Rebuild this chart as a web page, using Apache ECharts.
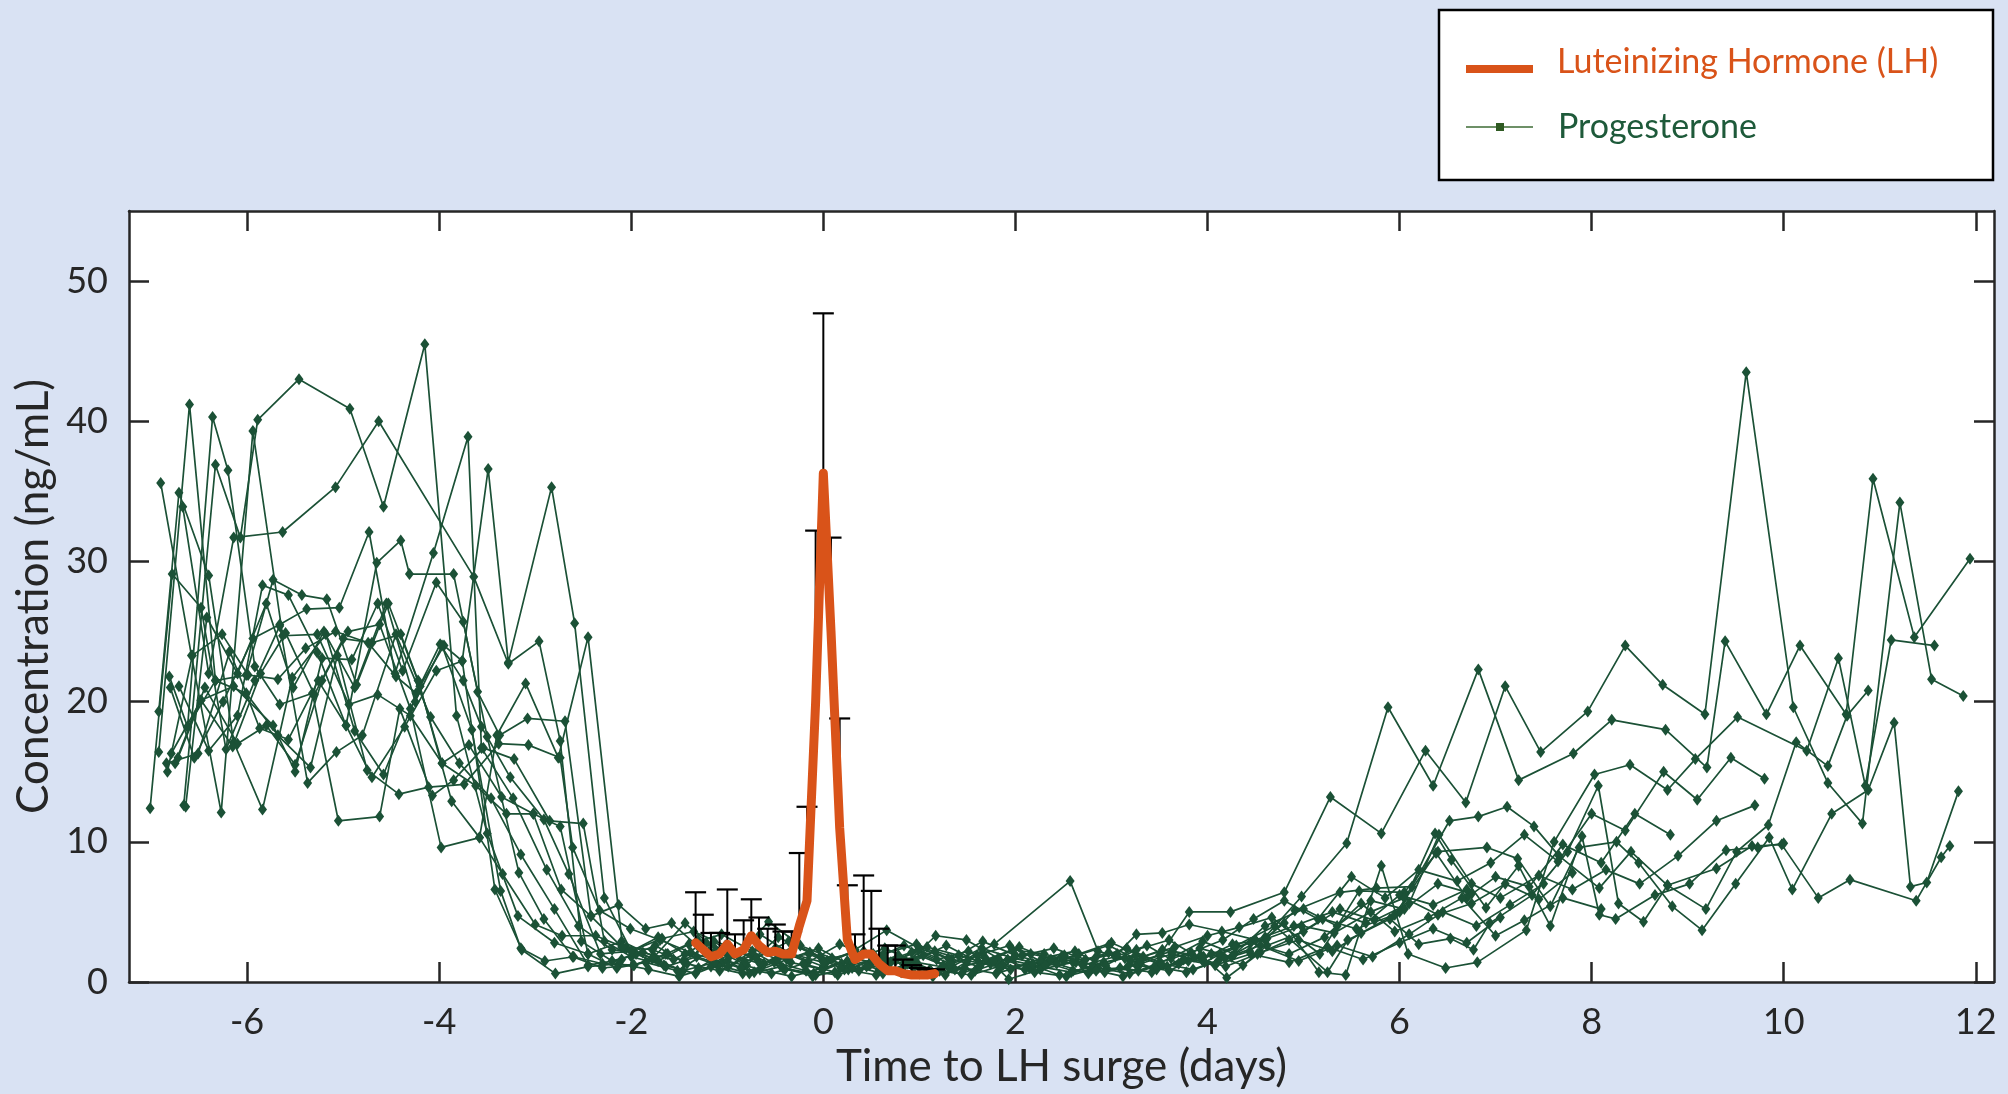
<!DOCTYPE html>
<html>
<head>
<meta charset="utf-8">
<script src="https://cdn.jsdelivr.net/npm/echarts@6/dist/echarts.min.js"></script>
<style>
  html, body { margin: 0; padding: 0; background: #D9E2F3; }
  #chart { width: 2008px; height: 1094px; }
</style>
</head>
<body>
<div id="chart"></div>
<script>
// ---------- Tick labels ----------
const xTicks = [-6, -4, -2, 0, 2, 4, 6, 8, 10, 12];
const yTicks = [0, 10, 20, 30, 40, 50];

// ---------- Luteinizing Hormone (mean and upper error bar) ----------
const lhDays  = [-1.33,-1.25,-1.17,-1.08,-1.0,-0.92,-0.83,-0.75,-0.67,-0.58,-0.5,-0.42,-0.33,-0.25,-0.17,-0.08,0,0.08,0.17,0.25,0.33,0.42,0.5,0.58,0.67,0.75,0.83,0.92,1.0,1.08,1.16];
const lhMean  = [2.8,2.3,1.8,2.0,2.7,2.0,2.3,3.3,2.6,2.1,2.2,2.0,2.0,4.0,5.8,20.0,36.3,25.0,11.0,3.0,1.6,2.0,2.0,1.3,0.8,0.8,0.6,0.5,0.5,0.5,0.6];
const lhUpper = [6.4,4.8,3.5,3.5,6.6,3.4,4.4,5.9,4.6,3.8,4.1,3.6,3.6,9.2,12.5,32.2,47.7,31.7,18.8,6.9,3.4,7.6,6.5,3.8,2.6,2.6,1.6,1.2,1.0,0.9,0.9];

// ---------- Progesterone, individual cycles ([day, ng/mL]) ----------
const p01 = [[-7.01,12.4],[-6.78,29.1],[-6.48,26.7],[-6.22,16.6],[-5.92,21.5],[-5.66,25.4],[-5.37,14.2],[-5.07,16.4],[-4.80,17.6],[-4.45,24.8],[-4.09,18.9],[-3.79,15.6],[-3.46,13.1],[-3.15,9.1],[-2.80,5.2],[-2.45,1.2],[-2.10,1.6],
  [-1.75,2.6],[-1.42,1.3],[-1.08,0.8],[-0.75,1.9],[-0.42,1.0],[-0.10,0.6],[0.25,1.5],[0.58,0.9],[0.92,2.1],[1.25,1.2],[1.58,0.8],[1.92,1.6],[2.25,1.1],[2.58,0.7],[2.92,1.4],[3.25,1.9],[3.58,1.1],[3.92,2.4],[4.25,1.8],
  [4.60,4.0],[5.00,5.2],[5.35,4.0],[5.70,5.8],[6.05,5.2],[6.40,7.0],[6.75,6.3]];
const p02 = [[-6.92,16.4],[-6.60,41.2],[-6.33,21.5],[-6.01,20.6],[-5.68,17.6],[-5.34,15.3],[-5.06,23.3],[-4.75,15.1],[-4.42,13.4],[-4.11,13.9],[-3.74,14.1],[-3.38,17.0],[-3.07,16.9],[-2.74,16.0],[-2.61,9.6],[-2.33,5.1],[-2.01,3.8],
  [-1.70,3.0],[-1.38,2.1],[-1.05,1.4],[-0.72,0.7],[-0.38,1.6],[-0.05,2.4],[0.28,1.2],[0.62,0.6],[0.95,1.5],[1.28,2.6],[1.62,1.4],[1.95,0.9],[2.28,1.7],[2.62,2.2],[2.95,1.0],[3.28,0.8],[3.62,1.7],[3.95,2.9],[4.28,2.0],
  [4.60,3.2],[4.98,6.1],[5.45,9.9],[5.88,19.6],[6.35,14.0],[6.82,22.3],[7.24,14.4],[7.81,16.3],[8.21,18.7],[8.77,18.0],[9.20,15.3],[9.39,24.3],[9.82,19.1],[10.17,24.0],[10.65,19.1],[10.93,35.9],[11.36,24.6],[11.94,30.2]];
const p03 = [[-6.92,19.3],[-6.71,34.9],[-6.40,29.0],[-6.14,17.1],[-5.84,12.3],[-5.53,21.7],[-5.18,24.8],[-4.88,17.9],[-4.58,14.8],[-4.20,21.1],[-3.87,12.9],[-3.58,10.3],[-3.34,7.7],[-3.00,4.1],[-2.72,3.3],[-2.37,3.3],[-2.05,2.4],
  [-1.72,1.5],[-1.40,2.7],[-1.06,3.4],[-0.74,2.2],[-0.40,0.9],[-0.08,0.5],[0.26,0.9],[0.60,1.8],[0.94,1.0],[1.27,0.5],[1.60,1.9],[1.94,2.6],[2.26,1.5],[2.60,0.8],[2.94,1.2],[3.26,2.3],[3.60,3.0],[3.94,1.6],[4.26,2.7],
  [4.60,3.0],[4.91,5.1],[5.38,6.4],[5.76,6.7],[6.13,6.8],[6.52,11.5],[6.82,11.8],[7.12,12.5],[7.40,11.1],[7.66,9.0],[8.08,6.7],[8.41,9.3],[8.79,6.9],[9.30,8.1],[9.67,9.7],[9.98,9.8],[10.36,6.0],[10.69,7.3],[11.38,5.8],[11.64,8.9],[11.73,9.7]];
const p04 = [[-6.90,35.6],[-6.58,23.3],[-6.27,12.1],[-5.94,39.3],[-5.63,24.7],[-5.27,24.8],[-4.94,19.8],[-4.64,20.5],[-4.30,19.0],[-3.97,15.6],[-3.69,16.9],[-3.35,13.2],[-3.02,12.0],[-2.73,6.6],[-2.42,4.7],[-2.13,5.5],[-1.85,3.8],
  [-1.58,4.2],[-1.30,2.5],[-0.98,1.8],[-0.66,3.4],[-0.34,2.0],[0.00,1.1],[0.33,2.3],[0.66,3.7],[1.00,2.4],[1.33,1.6],[1.66,2.9],[2.00,1.9],[2.33,1.3],[2.66,2.0],[3.00,2.8],[3.33,1.8],[3.66,2.5],[4.00,3.3],[4.33,3.9],
  [4.67,4.6],[5.17,2.0],[5.58,6.5],[6.05,6.4],[6.40,9.3],[6.91,9.6],[7.23,8.8],[7.57,5.4],[7.87,9.6],[8.26,10.0],[8.49,8.5],[8.84,5.4],[9.15,3.7],[9.50,7.0],[9.85,10.3],[10.09,6.6],[10.50,12.0],[10.88,13.7],[11.15,18.5],[11.32,6.8],[11.49,7.1],[11.82,13.6]];
const p05 = [[-6.84,15.6],[-6.51,16.3],[-6.18,23.6],[-5.87,18.1],[-5.57,17.3],[-5.26,21.5],[-4.97,18.3],[-4.70,14.6],[-4.36,18.2],[-4.03,22.2],[-3.76,22.9],[-3.42,6.6],[-3.14,2.3],[-2.79,0.6],[-2.45,1.1],[-2.13,1.3],
  [-1.82,0.9],[-1.50,0.4],[-1.17,1.1],[-0.84,0.6],[-0.51,1.4],[-0.18,0.8],[0.15,0.5],[0.48,1.2],[0.81,0.7],[1.14,0.4],[1.47,1.0],[1.80,0.6],[2.13,1.3],[2.46,0.5],[2.79,0.9],[3.12,0.4],[3.45,1.1],[3.78,0.7],[4.11,1.5],[4.44,2.2],
  [4.80,4.2],[5.16,0.7],[5.44,0.5],[5.81,8.3],[6.09,2.0],[6.48,1.0],[6.81,1.4],[7.32,3.7],[7.61,10.0],[8.03,14.8],[8.40,15.5],[8.79,13.7],[9.08,15.9],[9.52,18.9],[10.24,16.5],[10.57,23.1],[10.85,14.0],[11.12,24.4],[11.57,24.0]];
const p06 = [[-6.83,15.0],[-6.57,23.3],[-6.26,24.8],[-5.99,21.9],[-5.68,21.6],[-5.39,23.8],[-5.08,25.0],[-4.74,24.2],[-4.45,21.8],[-4.24,20.6],[-3.99,24.1],[-3.75,21.5],[-3.56,18.2],[-3.26,14.6],[-2.91,11.6],[-2.65,7.7],[-2.32,2.0],[-2.00,2.2],
  [-1.68,3.1],[-1.35,3.6],[-1.02,2.6],[-0.70,1.7],[-0.36,2.9],[-0.03,1.8],[0.30,1.0],[0.63,2.0],[0.97,2.7],[1.30,1.7],[1.63,1.1],[1.97,2.3],[2.30,2.0],[2.63,1.4],[2.97,2.1],[3.30,1.3],[3.63,2.0],[3.97,1.4],[4.30,2.6],
  [4.70,4.0],[5.25,0.7],[5.46,3.0],[5.90,4.5],[6.20,2.7],[6.53,3.1],[6.77,2.3],[6.94,4.2],[7.38,6.2],[7.75,9.3],[8.07,14.0],[8.28,5.6],[8.54,4.3],[8.79,6.9],[9.19,5.2],[9.51,9.3],[9.84,11.2],[10.13,17.1],[10.46,15.4],[10.66,19.0],[10.88,20.8]];
const p07 = [[-6.81,21.8],[-6.62,18.2],[-6.36,40.3],[-6.20,36.5],[-5.92,22.5],[-5.66,19.8],[-5.32,20.6],[-5.05,11.5],[-4.62,11.8],[-4.41,19.5],[-4.07,13.3],[-3.85,14.4],[-3.54,16.7],[-3.22,15.9],[-2.85,11.5],[-2.50,11.3],[-2.28,2.9],[-2.00,1.8],
  [-1.66,1.2],[-1.33,0.6],[-1.00,1.5],[-0.66,0.9],[-0.33,0.4],[0.00,1.0],[0.33,1.7],[0.66,1.1],[1.00,0.6],[1.33,1.3],[1.66,2.0],[1.93,0.2],[2.26,0.9],[2.60,1.4],[2.93,0.7],[3.26,1.2],[3.60,0.8],[3.93,1.9],[4.20,0.3],
  [4.55,2.1],[4.95,3.0],[5.30,2.2],[5.60,3.5],[6.00,5.0],[6.37,10.6],[6.54,8.7],[6.90,5.3],[7.24,8.3],[7.57,4.0],[7.90,10.4],[8.08,4.8],[8.25,4.5],[8.66,6.2],[9.02,7.0],[9.40,9.4],[9.73,9.6],[10.00,9.9]];
const p08 = [[-6.79,16.3],[-6.48,20.1],[-6.14,21.1],[-5.73,18.3],[-5.50,15.0],[-5.22,23.1],[-4.91,23.0],[-4.64,27.0],[-4.38,22.2],[-4.03,28.5],[-3.75,25.7],[-3.50,17.5],[-3.17,7.8],[-2.91,4.5],[-2.61,1.8],[-2.30,1.0],[-1.98,1.2],
  [-1.62,2.0],[-1.30,1.0],[-0.96,2.4],[-0.62,1.3],[-0.30,2.6],[0.04,1.5],[0.37,0.8],[0.70,1.4],[1.04,1.9],[1.37,0.9],[1.70,1.6],[2.04,2.5],[2.37,1.6],[2.70,1.2],[3.04,1.8],[3.37,2.6],[3.70,1.3],[4.04,2.0],[4.37,1.2],
  [4.62,2.6],[5.00,3.6],[5.38,5.2],[5.74,4.4],[6.10,5.6],[6.41,10.5],[6.75,7.0],[7.05,6.0],[7.45,7.6],[7.80,6.6],[8.15,8.0],[8.50,7.0],[8.90,9.0],[9.30,11.5],[9.70,12.6]];
const p09 = [[-6.67,33.9],[-6.40,22.0],[-6.14,31.7],[-5.63,32.1],[-5.08,35.3],[-4.63,40.0],[-3.64,28.9],[-3.28,22.7],[-2.96,24.3],[-2.74,17.2],[-2.52,2.9],[-2.20,1.5],[-1.95,2.0],
  [-1.64,1.1],[-1.32,1.8],[-0.99,1.1],[-0.67,2.5],[-0.34,1.4],[-0.01,0.9],[0.31,1.6],[0.64,2.4],[0.97,1.4],[1.31,1.0],[1.78,2.7],[2.57,7.2],[2.86,2.2],[3.20,1.5],[3.53,2.3],[3.86,1.8],[4.19,1.1],[4.52,2.0],
  [4.85,3.0],[5.20,4.5],[5.55,3.8],[5.95,4.8],[6.38,9.2],[6.70,6.0],[7.00,7.5],[7.35,6.8],[7.70,9.8],[8.10,8.5],[8.45,12.0],[8.82,10.5]];
const p10 = [[-6.66,12.6],[-6.33,36.9],[-6.07,31.7],[-5.89,40.1],[-5.46,43.0],[-4.93,40.9],[-4.58,33.9],[-4.15,45.5],[-3.82,19.0],[-3.50,10.6],[-3.18,4.7],[-2.80,2.8],[-2.45,2.0],[-2.10,2.9],
  [-1.76,1.8],[-1.44,4.2],[-1.12,2.3],[-0.80,1.2],[-0.47,3.2],[-0.14,2.1],[0.19,1.3],[0.52,2.0],[0.85,1.2],[1.17,3.3],[1.49,3.0],[1.82,1.7],[2.15,1.0],[2.48,1.8],[2.81,1.2],[3.14,1.7],[3.47,0.9],[3.80,1.5],[4.13,2.0],
  [4.45,2.8],[4.85,2.0],[5.22,3.2],[5.60,5.6],[5.95,3.6],[6.30,4.6],[6.65,6.0],[7.00,3.3],[7.30,4.4],[7.70,6.0],[8.10,5.2]];
const p11 = [[-6.71,21.1],[-6.40,16.5],[-6.10,19.0],[-5.84,28.3],[-5.57,27.6],[-5.27,23.5],[-4.97,18.3],[-4.65,29.9],[-4.40,31.5],[-4.31,29.1],[-3.85,29.1],[-3.60,20.7],[-3.37,17.6],[-3.08,18.8],[-2.69,18.6],[-2.42,4.7],[-2.10,2.5],
  [-1.78,2.3],[-1.46,1.5],[-1.14,2.9],[-0.82,1.4],[-0.50,2.4],[-0.16,1.4],[0.17,2.7],[0.50,1.8],[0.83,1.3],[1.16,2.2],[1.50,1.5],[1.83,1.2],[2.16,2.0],[2.50,1.5],[2.83,1.7],[3.16,2.4],[3.50,1.4],[3.83,2.1],[4.16,3.0],[4.48,4.5],
  [4.80,5.8],[5.15,4.5],[5.50,7.5],[5.85,6.0],[6.20,8.0],[6.60,7.2],[6.95,8.5],[7.30,10.5],[7.65,8.6],[8.00,12.0],[8.35,10.8],[8.75,15.0],[9.10,13.0],[9.45,16.0],[9.80,14.5]];
const p12 = [[-6.62,18.2],[-6.33,21.5],[-6.01,21.9],[-5.73,28.7],[-5.43,27.6],[-5.17,27.3],[-4.86,21.2],[-4.53,27.0],[-4.20,21.1],[-3.95,24.0],[-3.76,22.9],[-3.49,36.6],[-3.28,22.8],[-2.83,35.3],[-2.59,25.6],[-2.28,6.0],[-2.00,2.2],
  [-1.72,3.2],[-1.44,2.0],[-1.10,1.2],[-0.77,0.6],[-0.44,1.1],[-0.11,0.4],[0.22,0.9],[0.55,0.5],[0.88,1.3],[1.21,0.8],[1.54,0.5],[1.87,1.2],[2.20,0.7],[2.53,0.4],[2.86,1.0],[3.19,0.6],[3.52,1.3],[3.85,0.9],[4.18,1.7],
  [4.55,2.6],[4.95,1.5],[5.35,2.6],[5.72,1.8],[6.10,3.4],[6.45,5.0],[6.80,4.0],[7.15,5.5],[7.50,7.0]];
const p13 = [[-6.80,21.0],[-6.55,16.0],[-6.25,20.0],[-5.94,24.5],[-5.66,25.5],[-5.38,26.6],[-5.04,26.7],[-4.73,32.1],[-4.46,22.0],[-4.06,30.6],[-3.70,38.9],[-3.56,16.7],[-3.23,13.1],[-2.88,8.0],[-2.55,4.0],[-2.20,2.3],
  [-1.88,2.1],[-1.56,1.6],[-1.22,2.8],[-0.89,1.9],[-0.57,4.3],[-0.24,2.6],[0.09,1.7],[0.42,2.2],[0.75,1.5],[1.08,2.5],[1.41,1.9],[1.74,1.3],[2.07,1.9],[2.40,2.4],[2.73,1.6],[3.06,2.0],[3.26,3.4],[3.53,3.5],[3.81,4.1],
  [4.15,3.6],[4.50,3.0],[4.90,4.0],[5.30,5.0],[5.65,4.2],[6.00,6.2],[6.35,5.5],[6.70,6.6]];
const p14 = [[-6.75,15.6],[-6.44,21.0],[-6.10,17.0],[-5.80,18.3],[-5.50,15.5],[-5.22,21.5],[-4.95,25.0],[-4.62,25.5],[-4.30,19.5],[-3.98,9.6],[-3.58,10.3],[-3.40,17.6],[-3.10,21.3],[-2.76,16.0],[-2.45,24.6],[-2.09,2.5],
  [-1.78,1.7],[-1.46,0.8],[-1.13,1.4],[-0.81,2.6],[-0.48,1.6],[-0.15,2.0],[0.18,1.0],[0.51,1.6],[0.84,2.6],[1.18,1.6],[1.51,2.2],[1.84,1.0],[2.18,1.3],[2.51,1.9],[2.84,0.8],[3.17,1.1],[3.50,1.9],[3.81,5.0],[4.24,5.0],
  [4.80,6.4],[5.28,13.2],[5.81,10.6],[6.27,16.5],[6.69,12.8],[7.10,21.1],[7.47,16.4],[7.96,19.3],[8.35,24.0],[8.74,21.2],[9.18,19.1],[9.61,43.5],[10.10,19.6],[10.46,14.2],[10.82,11.3],[11.21,34.2],[11.54,21.6],[11.87,20.4]];
const p15 = [[-6.72,16.0],[-6.48,20.1],[-6.15,16.8],[-5.86,22.0],[-5.60,24.9],[-5.30,20.5],[-5.00,24.5],[-4.70,24.2],[-4.40,24.8],[-4.22,21.5],[-3.97,15.6],[-3.62,14.0],[-3.30,12.0],[-3.02,12.0],[-2.74,11.1],[-2.45,2.0],[-2.15,1.0],
  [-1.85,1.4],[-1.52,0.8],[-1.19,2.2],[-0.86,1.0],[-0.54,0.6],[-0.21,1.3],[0.12,0.7],[0.45,1.1],[0.78,1.9],[1.11,0.9],[1.44,0.6],[1.77,1.5],[2.10,0.9],[2.43,1.3],[2.76,0.6],[3.09,1.0],[3.42,0.7],[3.75,1.6],[4.08,1.2],
  [4.45,2.0],[4.85,1.4],[5.25,2.5],[5.62,1.6],[6.00,2.8],[6.35,3.8],[6.70,2.8],[7.05,4.6]];
const p16 = [[-6.64,12.5],[-6.42,26.0],[-6.10,22.0],[-5.80,27.0],[-5.52,21.0],[-5.20,25.0],[-4.88,21.0],[-4.55,27.0],[-4.25,20.0],[-3.97,24.0],[-3.66,18.0],[-3.36,6.5],[-3.15,2.4],[-2.90,1.5],[-2.60,1.8],[-2.30,1.3],
  [-1.97,1.2],[-1.64,2.0],[-1.31,3.0],[-0.98,2.0],[-0.66,1.3],[-0.33,2.0],[0.00,1.4],[0.33,2.2],[0.66,1.5],[0.99,2.3],[1.32,1.3],[1.65,2.4],[1.98,1.7],[2.31,1.2],[2.64,1.9],[2.97,2.6],[3.30,1.5],[3.63,2.2],[3.96,1.8],[4.29,2.5],
  [4.62,3.1],[4.98,4.0],[5.32,3.5],[5.70,5.0],[6.05,6.0],[6.40,4.8],[6.75,5.6],[7.10,7.0],[7.45,5.9],[7.80,7.8]];

const progesteroneCycles = [p01,p02,p03,p04,p05,p06,p07,p08,p09,p10,p11,p12,p13,p14,p15,p16];

// ---------- Styling ----------
const GREEN = '#1B5136';
const ORANGE = '#D95319';
const AXIS = '#262626';
const FONT = 'Lato';

const chart = echarts.init(document.getElementById('chart'), null, { renderer: 'canvas' });

const axisCommon = {
  axisLine: { show: true, onZero: false, lineStyle: { color: AXIS, width: 2.5 } },
  axisTick: { show: true, inside: true, length: 20, lineStyle: { color: AXIS, width: 2.5 } },
  splitLine: { show: false }
};

const progSeries = progesteroneCycles.map((cyc) => ({
  type: 'line',
  name: 'Progesterone',
  data: cyc,
  xAxisIndex: 0, yAxisIndex: 0,
  symbol: 'diamond',
  symbolSize: [9, 12],
  showSymbol: true,
  itemStyle: { color: GREEN },
  lineStyle: { color: GREEN, width: 1.7 },
  z: 2,
  animation: false,
  silent: true
}));

const errData = lhDays.map((d, i) => [d, lhMean[i], lhUpper[i]]);

const option = {
  backgroundColor: '#D9E2F3',
  animation: false,
  grid: { left: 129, right: 14, top: 211, bottom: 112, show: true, backgroundColor: '#FFFFFF', borderWidth: 0 },
  xAxis: [
    Object.assign({
      type: 'value', min: -7.23, max: 12.19, position: 'bottom',
      name: 'Time to LH surge (days)', nameLocation: 'middle', nameGap: 61,
      nameTextStyle: { fontFamily: FONT, fontSize: 44, color: AXIS },
      axisLabel: { show: true, customValues: xTicks, margin: 22, fontFamily: FONT, fontSize: 36, color: AXIS },
    }, axisCommon, { axisTick: Object.assign({}, axisCommon.axisTick, { customValues: xTicks }) }),
    Object.assign({
      type: 'value', min: -7.23, max: 12.19, position: 'top',
      axisLabel: { show: false }
    }, axisCommon, { axisTick: Object.assign({}, axisCommon.axisTick, { customValues: xTicks }) })
  ],
  yAxis: [
    Object.assign({
      type: 'value', min: 0, max: 55, position: 'left',
      name: 'Concentration (ng/mL)', nameLocation: 'middle', nameGap: 70, nameRotate: 90,
      nameTextStyle: { fontFamily: FONT, fontSize: 44, color: AXIS },
      axisLabel: { show: true, customValues: yTicks, margin: 21, fontFamily: FONT, fontSize: 36, color: AXIS },
    }, axisCommon, { axisTick: Object.assign({}, axisCommon.axisTick, { customValues: yTicks }) }),
    Object.assign({
      type: 'value', min: 0, max: 55, position: 'right',
      axisLabel: { show: false }
    }, axisCommon, { axisTick: Object.assign({}, axisCommon.axisTick, { customValues: yTicks }) })
  ],
  series: progSeries.concat([
    {
      type: 'custom',
      name: 'LH error',
      data: errData,
      xAxisIndex: 0, yAxisIndex: 0,
      z: 3,
      silent: true,
      renderItem: function (params, api) {
        const base = api.coord([api.value(0), api.value(1)]);
        const top = api.coord([api.value(0), api.value(2)]);
        const half = 10.5;
        return {
          type: 'group',
          children: [
            { type: 'line', shape: { x1: base[0], y1: base[1], x2: top[0], y2: top[1] }, style: { stroke: '#000', lineWidth: 2 } },
            { type: 'line', shape: { x1: top[0] - half, y1: top[1], x2: top[0] + half, y2: top[1] }, style: { stroke: '#000', lineWidth: 2.2 } }
          ]
        };
      }
    },
    {
      type: 'line',
      name: 'Luteinizing Hormone (LH)',
      data: lhDays.map((d, i) => [d, lhMean[i]]),
      xAxisIndex: 0, yAxisIndex: 0,
      symbol: 'none',
      lineStyle: { color: ORANGE, width: 9, cap: 'round', join: 'round' },
      itemStyle: { color: ORANGE },
      z: 4,
      silent: true
    }
  ]),
  graphic: [
    { type: 'rect', shape: { x: 1439, y: 10, width: 554, height: 170 }, style: { fill: '#FFFFFF', stroke: '#000000', lineWidth: 2.5 }, z: 10 },
    { type: 'line', shape: { x1: 1466, y1: 69, x2: 1533, y2: 69 }, style: { stroke: ORANGE, lineWidth: 8 }, z: 11 },
    { type: 'text', x: 1557, y: 62, style: { text: 'Luteinizing Hormone (LH)', font: '34px Lato', fill: ORANGE, verticalAlign: 'middle', align: 'left' }, z: 11 },
    { type: 'line', shape: { x1: 1466, y1: 127, x2: 1533, y2: 127 }, style: { stroke: '#3D6B35', lineWidth: 1.6 }, z: 11 },
    { type: 'rect', shape: { x: 1496, y: 123, width: 8, height: 8 }, style: { fill: '#2F5A22' }, z: 12 },
    { type: 'text', x: 1558, y: 127, style: { text: 'Progesterone', font: '34px Lato', fill: '#1E5A3A', verticalAlign: 'middle', align: 'left' }, z: 11 }
  ]
};

chart.setOption(option);
</script>
</body>
</html>
